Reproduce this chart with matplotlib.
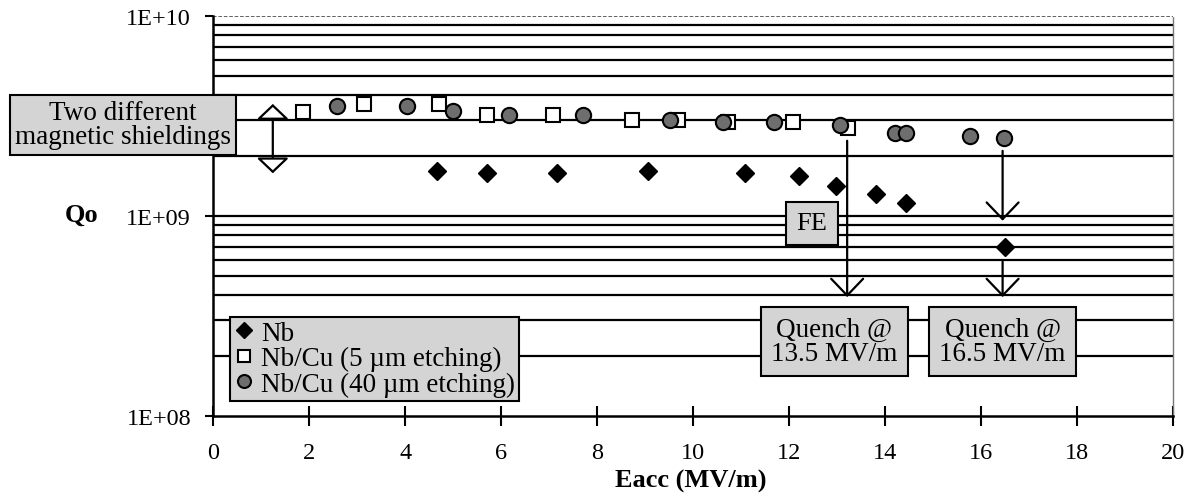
import matplotlib
matplotlib.use("Agg")
import matplotlib.pyplot as plt
import numpy as np

plt.rcParams['font.family'] = ['Liberation Serif', 'DejaVu Serif']

nb_x = [4.66, 5.71, 7.16, 9.06, 11.08, 12.20, 12.98, 13.81, 14.43, 16.50]
nb_q = [1.67e9, 1.64e9, 1.64e9, 1.68e9, 1.64e9, 1.58e9, 1.41e9, 1.285e9, 1.16e9, 6.95e8]

cu5_x = [1.86, 3.14, 4.70, 5.70, 7.09, 8.72, 9.68, 10.72, 12.08, 13.23]
cu5_q = [3.30e9, 3.61e9, 3.62e9, 3.19e9, 3.19e9, 3.01e9, 3.0e9, 2.93e9, 2.93e9, 2.73e9]

cu40_x = [2.57, 4.03, 4.99, 6.16, 7.70, 9.51, 10.62, 11.68, 13.07, 14.20, 14.43, 15.76, 16.47]
cu40_q = [3.52e9, 3.52e9, 3.32e9, 3.19e9, 3.19e9, 3.0e9, 2.93e9, 2.94e9, 2.83e9, 2.58e9, 2.58e9, 2.50e9, 2.44e9]

labels = ['Nb', 'Nb/Cu (5 \u00b5m etching)', 'Nb/Cu (40 \u00b5m etching)']
x_ticks = list(range(0, 21, 2))
y_ticks = [1e8, 1e9, 1e10]
y_ticklabels = ['1E+08', '1E+09', '1E+10']

fig = plt.figure(figsize=(11.89, 5.02), dpi=100)
ax = fig.add_axes([0.1794, 0.1699, 0.8071, 0.7968])
ax.set_yscale('log')
ax.set_xlim(0, 20)
ax.set_ylim(1e8, 1e10)

# horizontal gridlines at each minor decade step
for dec in [1e8, 1e9]:
    for m in range(2, 11):
        v = dec * m
        if v >= 1e10:
            ax.axhline(v, color='#555555', lw=1.3, ls=(0, (2, 1)), zorder=1)
        else:
            ax.axhline(v, color='black', lw=1.6, zorder=1)

ax.spines['top'].set_visible(False)
ax.spines['right'].set_color('#777777')
ax.spines['right'].set_linestyle((0, (1, 1)))
ax.spines['right'].set_linewidth(1.0)
ax.spines['left'].set_linewidth(1.8)
ax.spines['bottom'].set_linewidth(1.8)

ax.set_xticks(x_ticks)
ax.set_xticklabels([str(t) for t in x_ticks])
ax.set_yticks(y_ticks)
ax.set_yticklabels(y_ticklabels)
ax.yaxis.set_minor_locator(matplotlib.ticker.NullLocator())
ax.tick_params(axis='x', direction='inout', length=14, width=1.5, labelsize=17.5, pad=12)
ax.tick_params(axis='y', direction='out', length=6, width=1.5, labelsize=17.5, pad=10)

ax.plot(nb_x, nb_q, ls='none', marker='D', ms=9.3, mfc='black', mec='black', zorder=5, label=labels[0])
ax.plot(cu5_x, cu5_q, ls='none', marker='s', ms=10.3, mfc='white', mec='black', mew=1.5, zorder=4, label=labels[1])
ax.plot(cu40_x, cu40_q, ls='none', marker='o', ms=11, mfc='#6e6e6e', mec='black', mew=1.5, zorder=5, label=labels[2])

ax.set_xlabel('Eacc (MV/m)', fontsize=19, fontweight='bold', va='center')
ax.xaxis.set_label_coords(0.498, -0.161)
fig.text(0.0824, 0.5717, 'Qo', fontsize=19, fontweight='bold', ha='right', va='center')

gray = '#d4d4d4'

# double arrow (two shieldings)
ax.annotate('', xy=(1.24, 3.62e9), xytext=(1.24, 1.63e9),
            arrowprops=dict(arrowstyle='<|-|>,head_length=0.95,head_width=1.0', fc='white', ec='black', lw=1.6,
                            shrinkA=0, shrinkB=0),
            zorder=6)
fig.text(0.1034, 0.7494, 'Two different\nmagnetic shieldings', fontsize=19.5, ha='center', va='center',
         linespacing=0.95, bbox=dict(boxstyle='square,pad=0.2', fc=gray, ec='black', lw=1.5), zorder=10)

# quench arrows
head = '->,head_length=1.2,head_width=1.15'
ax.annotate('', xy=(13.21, 3.92e8), xytext=(13.21, 2.37e9),
            arrowprops=dict(arrowstyle=head, ec='black', lw=1.6, shrinkA=0, shrinkB=0), zorder=6)
ax.annotate('', xy=(16.45, 9.44e8), xytext=(16.45, 2.11e9),
            arrowprops=dict(arrowstyle=head, ec='black', lw=1.6, shrinkA=0, shrinkB=0), zorder=6)
ax.annotate('', xy=(16.45, 3.92e8), xytext=(16.45, 5.89e8),
            arrowprops=dict(arrowstyle=head, ec='black', lw=1.6, shrinkA=0, shrinkB=0), zorder=6)

ax.text(12.48, 9.15e8, 'FE', fontsize=19, ha='center', va='center',
        bbox=dict(boxstyle='square,pad=0.4', fc=gray, ec='black', lw=1.5), zorder=7)
ax.text(12.94, 2.35e8, 'Quench @\n13.5 MV/m', fontsize=19.5, ha='center', va='center', linespacing=0.95,
        bbox=dict(boxstyle='square,pad=0.38', fc=gray, ec='black', lw=1.5), zorder=7)
ax.text(16.45, 2.35e8, 'Quench @\n16.5 MV/m', fontsize=19.5, ha='center', va='center', linespacing=0.95,
        bbox=dict(boxstyle='square,pad=0.38', fc=gray, ec='black', lw=1.5), zorder=7)

leg = ax.legend(loc='lower left', bbox_to_anchor=(0.0174, 0.0368), fontsize=19.5, frameon=True,
                fancybox=False, handlelength=0.7, handletextpad=0.3, borderpad=0.15,
                labelspacing=0.02, borderaxespad=0, markerscale=0.85)
leg.get_frame().set_facecolor(gray)
leg.get_frame().set_edgecolor('black')
leg.get_frame().set_linewidth(1.5)
leg.get_frame().set_alpha(1)
leg.set_zorder(8)

fig.savefig('out.png', dpi=100)
